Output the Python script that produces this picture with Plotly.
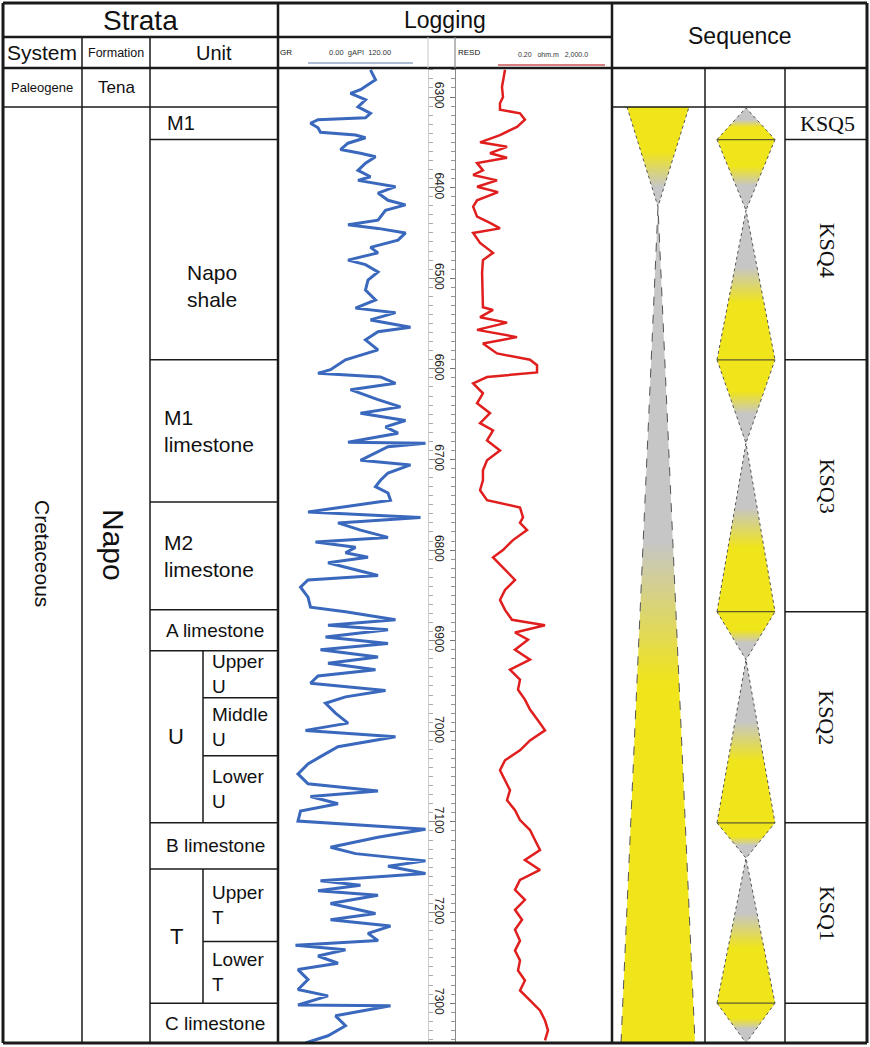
import math
import plotly.graph_objects as go

W, H = 870, 1047

# ---------------- data ----------------
gr_depth = [6270, 6281, 6292, 6296, 6303, 6311, 6318, 6323, 6325, 6329, 6334, 6339, 6342, 6345, 6351, 6358,
            6362, 6366, 6373, 6381, 6388, 6392, 6399, 6406, 6414, 6419, 6425, 6436, 6441, 6445, 6450, 6458,
            6466, 6472, 6480, 6485, 6493, 6502, 6513, 6524, 6533, 6538, 6546, 6554, 6559, 6568, 6579, 6590,
            6601, 6605, 6609, 6616, 6623, 6634, 6642, 6649, 6657, 6664, 6671, 6681, 6682, 6686, 6701, 6706,
            6715, 6723, 6730, 6737, 6745, 6750, 6758, 6764, 6770, 6778, 6786, 6791, 6797, 6803, 6808, 6814,
            6822, 6828, 6833, 6841, 6852, 6863, 6868, 6877, 6883, 6888, 6896, 6903, 6910, 6918, 6925, 6932,
            6939, 6947, 6955, 6962, 6969, 6980, 6991, 6999, 7006, 7017, 7028, 7036, 7047, 7058, 7066, 7072,
            7080, 7088, 7099, 7108, 7117, 7128, 7135, 7143, 7149, 7157, 7165, 7170, 7176, 7181, 7190, 7201,
            7208, 7215, 7223, 7231, 7236, 7241, 7248, 7256, 7263, 7274, 7285, 7292, 7302, 7303, 7314, 7325,
            7336, 7344]
gr_api = [74, 78, 66, 58, 70, 64, 74, 70, 32, 26, 32, 34, 62, 70, 56, 50,
          66, 78, 70, 64, 74, 64, 94, 80, 88, 102, 86, 80, 56, 80, 102, 96,
          74, 80, 56, 70, 80, 72, 70, 78, 62, 94, 74, 106, 80, 70, 80, 54,
          42, 32, 82, 94, 58, 80, 98, 66, 102, 86, 96, 56, 118, 88, 66, 106,
          88, 82, 78, 88, 90, 66, 24, 114, 48, 66, 88, 30, 62, 54, 72, 40,
          64, 80, 24, 18, 24, 26, 54, 94, 40, 88, 38, 88, 34, 80, 40, 78,
          32, 26, 86, 54, 38, 46, 56, 22, 94, 48, 34, 24, 16, 24, 80, 26,
          48, 18, 16, 118, 80, 42, 62, 118, 88, 118, 34, 66, 32, 80, 42, 78,
          42, 90, 72, 80, 14, 54, 32, 48, 16, 24, 16, 40, 16, 90, 46, 54,
          40, 22]

resd_depth = [6270, 6289, 6300, 6307, 6314, 6318, 6325, 6333, 6342, 6350, 6355, 6362, 6367, 6373, 6381, 6386,
              6392, 6399, 6405, 6414, 6421, 6432, 6439, 6445, 6450, 6461, 6472, 6480, 6494, 6516, 6532, 6535,
              6543, 6549, 6557, 6565, 6572, 6583, 6590, 6596, 6604, 6609, 6616, 6627, 6638, 6649, 6660, 6668,
              6679, 6690, 6701, 6712, 6723, 6734, 6745, 6753, 6764, 6770, 6778, 6789, 6800, 6808, 6822, 6833,
              6844, 6855, 6866, 6877, 6883, 6891, 6899, 6910, 6921, 6932, 6943, 6954, 6965, 6976, 6988, 6999,
              7010, 7021, 7032, 7043, 7054, 7065, 7076, 7087, 7098, 7109, 7120, 7131, 7142, 7153, 7164, 7175,
              7186, 7197, 7208, 7219, 7231, 7242, 7253, 7264, 7275, 7286, 7297, 7308, 7319, 7330, 7341]
resd_ohmm = [3.76, 3.15, 3.34, 2.80, 2.80, 9.06, 12.1, 7.6, 2.80, 0.87, 4.23, 1.56, 4.23, 0.73, 1.03, 0.58,
             2.35, 0.73, 2.49, 0.73, 0.58, 0.73, 1.56, 2.80, 0.58, 0.87, 1.86, 1.03, 0.98, 1.03, 1.03, 1.86,
             0.87, 4.23, 0.73, 7.6, 1.03, 2.35, 16.3, 24.6, 24.6, 1.31, 0.58, 1.03, 0.73, 1.56, 0.87, 1.86,
             1.31, 2.80, 1.31, 1.03, 1.03, 0.87, 1.31, 9.06, 10.8, 9.06, 13.7, 6.0, 3.34, 1.86, 3.76, 6.76,
             3.76, 2.80, 3.76, 5.66, 39.3, 6.76, 14.5, 6.76, 16.3, 5.04, 9.06, 8.06, 12.1, 16.3, 26.1, 39.3,
             16.3, 9.06, 3.76, 2.80, 3.76, 5.04, 4.23, 6.76, 9.06, 16.3, 21.8, 29.3, 12.1, 29.3, 9.06, 6.76,
             12.1, 6.76, 10.2, 6.76, 9.06, 6.76, 9.06, 8.06, 12.1, 9.06, 16.3, 29.3, 39.3, 46.8, 39.3]

depth_top, depth_bottom = 6268, 7344
depth_ticks = [6300, 6400, 6500, 6600, 6700, 6800, 6900, 7000, 7100, 7200, 7300]

systems = ["Paleogene", "Cretaceous"]
system_tops = [6268, 6311]
formations = ["Tena", "Napo"]

units = ["M1", "Napo<br>shale", "M1<br>limestone", "M2<br>limestone", "A limestone",
         "U", "B limestone", "T", "C limestone"]
unit_tops = [6311, 6347, 6590, 6747, 6866, 6911, 7101, 7152, 7300]
unit_bases = [6347, 6590, 6747, 6866, 6911, 7101, 7152, 7300, 7344]

sub_units = ["Upper<br>U", "Middle<br>U", "Lower<br>U", "Upper<br>T", "Lower<br>T"]
sub_tops = [6911, 6963, 7027, 7152, 7232]
sub_bases = [6963, 7027, 7101, 7232, 7300]

sequences = ["KSQ5", "KSQ4", "KSQ3", "KSQ2", "KSQ1"]
seq_tops = [6311, 6347, 6590, 6868, 7101]
seq_bases = [6347, 6590, 6868, 7101, 7300]

long_top, long_turn, long_base = 6311, 6421, 7344
short_tips = [6312, 6425, 6682, 6921, 7140, 7344]
short_turns = [6347, 6590, 6868, 7101, 7300]

# ---------------- styling ----------------
SANS = "Liberation Sans, Arial, sans-serif"
SERIF = "Liberation Serif, Times New Roman, serif"
YEL = "#F0E41A"
GRY = "#C6C6C6"
INK = "#1a1a1a"


def py(p):
    return 1 - p / H


fig = go.Figure()
shapes = []
annotations = []


def seg(x0, y0, x1, y1, yref="paper", w=1.5, c=INK):
    if yref == "paper":
        y0, y1 = py(y0), py(y1)
    shapes.append(dict(type="line", xref="x", yref=yref, x0=x0, x1=x1, y0=y0, y1=y1,
                       line=dict(color=c, width=w), layer="above"))


def ann(text, x, y, size, yref="paper", font=SANS, angle=0, xanchor="center", align="center",
        yshift=0, color="#111"):
    if yref == "paper":
        y = py(y)
    annotations.append(dict(text=text, x=x, y=y, xref="x", yref=yref, showarrow=False,
                            font=dict(family=font, size=size, color=color), textangle=angle,
                            xanchor=xanchor, yanchor="middle", align=align, yshift=yshift))


# ---------------- logs ----------------
fig.add_trace(go.Scatter(x=gr_api, y=gr_depth, xaxis="x2", yaxis="y", mode="lines",
                         line=dict(color="#3a68bd", width=3), hoverinfo="skip", showlegend=False))
fig.add_trace(go.Scatter(x=resd_ohmm, y=resd_depth, xaxis="x3", yaxis="y", mode="lines",
                         line=dict(color="#e01e1e", width=2.5), hoverinfo="skip", showlegend=False))
# helper trace so the left tick column axis is drawn
fig.add_trace(go.Scatter(x=[], y=[], xaxis="x", yaxis="y2", showlegend=False))

# ---------------- sequence triangles ----------------
UP = [[0, GRY], [0.38, GRY], [0.62, YEL], [1, YEL]]
DOWN = [[0, YEL], [0.38, YEL], [0.65, GRY], [1, GRY]]


def tri(xs, ys, cs, start, stop, dash="dot"):
    fig.add_trace(go.Scatter(x=xs, y=ys, xaxis="x", yaxis="y", mode="lines", fill="toself",
                             fillgradient=dict(type="vertical", colorscale=cs, start=start, stop=stop),
                             line=dict(color="#555555", width=1, dash=dash),
                             hoverinfo="skip", showlegend=False))


C1 = 658
tri([C1 - 31, C1, C1 + 31], [long_top, long_turn, long_top],
    [[0, YEL], [0.45, YEL], [0.8, GRY], [1, GRY]], long_top, long_turn)
tri([C1 - 37, C1, C1 + 37], [long_base, long_turn, long_base],
    [[0, GRY], [0.4, GRY], [0.57, YEL], [1, YEL]], long_turn, long_base, dash="dash")

C2, HW2 = 746, 29
for i, turn in enumerate(short_turns):
    tip_up, tip_dn = short_tips[i], short_tips[i + 1]
    tri([C2 - HW2, C2, C2 + HW2], [turn, tip_up, turn], UP, tip_up, turn)
    tri([C2 - HW2, C2, C2 + HW2], [turn, tip_dn, turn], DOWN, turn, tip_dn)
    seg(C2 - HW2, turn, C2 + HW2, turn, "y", w=1.2, c="#5c5c28")

# ---------------- table frame ----------------
seg(3, 3, 867, 3, w=3)
seg(3, 1043, 867, 1043, w=3)
seg(3, 3, 3, 1043, w=3)
seg(867, 3, 867, 1043, w=3)
seg(3, 37, 612, 37, w=2.5)
seg(3, 68, 867, 68, w=2.5)
seg(278, 3, 278, 1043, w=2.5)
seg(612, 3, 612, 1043, w=2.5)
seg(82, 37, 82, 1043)
seg(150, 37, 150, 1043)
seg(705, 68, 705, 1043)
seg(785, 68, 785, 1043)
seg(428, 37, 428, 68, w=1, c="#c8c8c8")
seg(455, 37, 455, 68, w=1.2, c="#8a8a8a")

seg(3, system_tops[1], 278, system_tops[1], "y")
seg(612, seq_tops[0], 867, seq_tops[0], "y")
for t in unit_tops[1:]:
    seg(150, t, 278, t, "y")
for t in sub_tops:
    if t not in unit_tops:
        seg(203, t, 278, t, "y")
for name, t, b in zip(units, unit_tops, unit_bases):
    if name in ("U", "T"):
        seg(203, t, 203, b, "y")
for b in seq_bases:
    seg(785, b, 867, b, "y")

# log scale bars in header
seg(308, 63, 413, 63, w=1.5, c="#93a6c9")
seg(498, 65, 605, 65, w=2, c="#d88080")

# ---------------- text ----------------
ann("Strata", 140, 20, 28)
ann("Logging", 445, 20, 23)
ann("Sequence", 740, 36, 23)
ann("System", 42, 53, 21)
ann("Formation", 116, 53, 12.5)
ann("Unit", 214, 53, 20)
ann("GR", 286, 52, 8)
ann("0.00  gAPI  120.00", 360, 52, 7.5, color="#333")
ann("RESD", 469, 53, 8)
ann("0.20   ohm.m   2,000.0", 553, 54, 7, color="#333")

mid_top = (system_tops[0] + system_tops[1]) / 2
ann(systems[0], 42, mid_top, 13, "y")
ann(formations[0], 116, mid_top, 17, "y")
mid_body = (system_tops[1] + depth_bottom) / 2
ann(systems[1], 42, mid_body, 21, "y", angle=90, yshift=22)
ann(formations[1], 113, mid_body, 30, "y", angle=90, yshift=30)

for name, t, b in zip(units, unit_tops, unit_bases):
    m = (t + b) / 2
    if name == "M1":
        ann(name, 165, m, 20, "y", xanchor="left")
    elif name in ("U", "T"):
        ann(name, 176, m, 22, "y")
    elif name.startswith("Napo"):
        ann(name, 212, m, 21, "y", yshift=-36)
    elif "<br>" in name:
        ann(name, 162, m, 21, "y", xanchor="left", align="left")
    else:
        ann(name, 215, m, 19, "y")

for name, t, b in zip(sub_units, sub_tops, sub_bases):
    ann(name, 210, (t + b) / 2, 19, "y", xanchor="left", align="left")

for name, t, b in zip(sequences, seq_tops, seq_bases):
    ann(name, 827, (t + b) / 2, 22, "y", font=SERIF, angle=0 if name == "KSQ5" else 90)

# ---------------- layout ----------------
yrange = [depth_bottom, depth_top]
ydom = [1 - 1043 / H, 1 - 68 / H]
fig.update_layout(
    width=W, height=H, margin=dict(l=0, r=0, t=0, b=0),
    paper_bgcolor="white", plot_bgcolor="rgba(0,0,0,0)",
    showlegend=False,
    xaxis=dict(range=[0, W], domain=[0, 1], visible=False, fixedrange=True),
    xaxis2=dict(range=[0, 120], domain=[278 / W, 428 / W], visible=False, anchor="y"),
    xaxis3=dict(type="log", range=[math.log10(0.2), math.log10(2000)],
                domain=[455 / W, 612 / W], visible=False, anchor="y"),
    yaxis=dict(range=yrange, domain=ydom, anchor="free", position=455 / W, side="left",
               ticks="outside", ticklen=5, tickcolor="#777", tickwidth=1,
               tickvals=depth_ticks, ticktext=[str(v) for v in depth_ticks], tickangle=90,
               tickfont=dict(family=SANS, size=12, color="#222"),
               showline=True, linecolor="#8a8a8a", linewidth=1.2,
               showgrid=False, zeroline=False,
               minor=dict(dtick=10, tick0=6300, ticklen=4, tickcolor="#999", ticks="outside", showgrid=False)),
    yaxis2=dict(range=yrange, overlaying="y", anchor="free", position=428 / W, side="right",
                ticks="outside", ticklen=6, tickcolor="#888", tickvals=depth_ticks,
                showticklabels=False, showline=True, linecolor="#cccccc", linewidth=1,
                showgrid=False, zeroline=False,
                minor=dict(dtick=10, tick0=6300, ticklen=4, tickcolor="#aaa", ticks="outside", showgrid=False)),
    shapes=shapes,
    annotations=annotations,
)

fig.write_html("out.html", config={"displayModeBar": False},
               post_script="document.body.style.margin='0';document.body.style.overflow='hidden';")
